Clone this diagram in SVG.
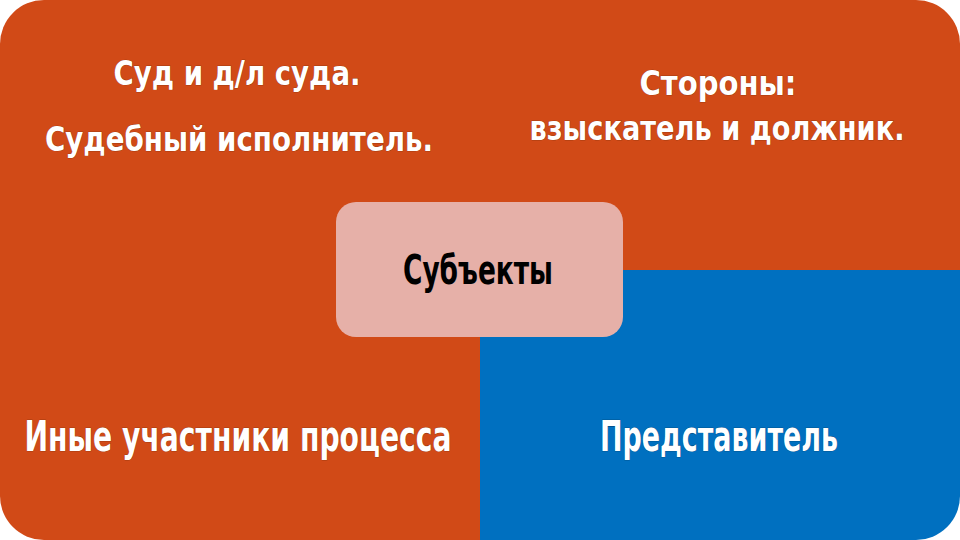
<svg xmlns="http://www.w3.org/2000/svg" width="960" height="540" viewBox="0 0 960 540">
<style>
.t{font-family:"Liberation Sans Narrow","DejaVu Sans Condensed","Liberation Sans",sans-serif;font-weight:bold;fill:#FFFFFF;text-anchor:middle;stroke:#7a2a0a;stroke-width:0.6;paint-order:stroke}
.tb{stroke:#003a6a}
.c{font-family:"Liberation Sans Narrow","DejaVu Sans Condensed","Liberation Sans",sans-serif;font-weight:bold;fill:#000000;text-anchor:middle}
</style>
<defs>
<clipPath id="outer"><rect x="0" y="0" width="960" height="540" rx="44" ry="44"/></clipPath>
</defs>
<g clip-path="url(#outer)">
<g id="q-top-left"><rect x="0" y="0" width="480" height="270" fill="#D14A17"/>
<text class="t" x="237" y="85" font-size="34" textLength="247" lengthAdjust="spacingAndGlyphs">Суд и д/л суда.</text>
<text class="t" x="239" y="151" font-size="34" textLength="388" lengthAdjust="spacingAndGlyphs">Судебный исполнитель.</text>
</g>
<g id="q-top-right"><rect x="480" y="0" width="480" height="270" fill="#D14A17"/>
<text class="t" x="718" y="95" font-size="34" textLength="157" lengthAdjust="spacingAndGlyphs">Стороны:</text>
<text class="t" x="717" y="140" font-size="34" textLength="375" lengthAdjust="spacingAndGlyphs">взыскатель и должник.</text>
</g>
<g id="q-bottom-left"><rect x="0" y="270" width="480" height="270" fill="#D14A17"/>
<text class="t" x="238" y="451" font-size="43" textLength="427" lengthAdjust="spacingAndGlyphs">Иные участники процесса</text>
</g>
<g id="q-bottom-right"><rect x="480" y="270" width="480" height="270" fill="#0070C0"/>
<text class="t tb" x="719" y="451" font-size="43" textLength="238" lengthAdjust="spacingAndGlyphs">Представитель</text>
</g>
</g>
<g id="center">
<rect x="336" y="202" width="287" height="135" rx="20" ry="20" fill="#E6B0A8"/>
<text class="c" x="478" y="284" font-size="40" textLength="150" lengthAdjust="spacingAndGlyphs">Субъекты</text>
</g>
<g id="connectors"/>
</svg>
